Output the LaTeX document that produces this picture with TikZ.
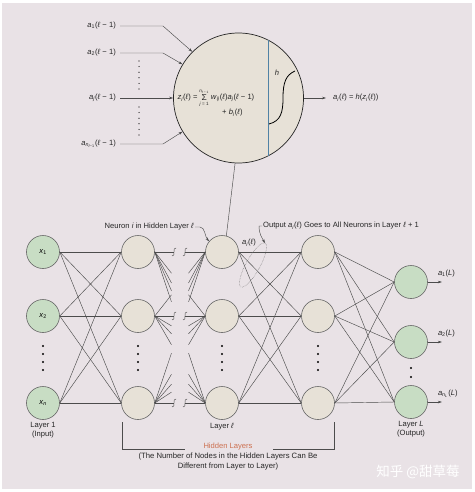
\documentclass[tikz,border=0pt]{standalone}
\usepackage{fontspec}
\setmainfont{Liberation Sans}
\newfontfamily\cjk{Noto Sans CJK SC}
\usetikzlibrary{positioning,calc,arrows.meta}
\definecolor{bgpink}{RGB}{233,226,230}
\definecolor{beige}{RGB}{231,225,215}
\definecolor{sage}{RGB}{200,221,196}
\definecolor{rust}{RGB}{204,112,80}
\definecolor{steel}{RGB}{80,130,165}
\newcommand{\lay}{\textit{ℓ}}
\newcommand{\iv}[1]{\textit{#1}}
\newcommand{\lo}[1]{\textsubscript{\textit{#1}}}
\newcommand{\brk}[1]{\draw[wire] ($(#1)+(2,-4)$) .. controls ($(#1)+(-2,-5)$) and ($(#1)+(2,5)$) .. ($(#1)+(-2,4)$);}

\begin{document}
\begin{tikzpicture}[x=1pt,y=-1pt,
  lbl/.style={font=\fontsize{7.6}{9}\selectfont, text=black!85, inner sep=1pt},
  lim/.style={font=\fontsize{4.6}{5}\selectfont, text=black!85, inner sep=0pt},
  unit/.style={circle, draw=black!60, line width=0.6pt, minimum size=33pt, inner sep=0pt, font=\fontsize{7.6}{8}\selectfont},
  inp/.style={unit, fill=sage},
  hid/.style={unit, fill=beige},
  wire/.style={draw=black!70, line width=0.45pt},
  arr/.style={wire, -{Stealth[length=4pt,width=2.6pt]}}]
  \useasboundingbox (0,0) rectangle (474,492);
  \fill[white] (0,0) rectangle (474,492);
  \fill[bgpink] (2,3) rectangle (472,489);

  % the single neuron, enlarged
  \node[circle, draw=black!85, line width=0.7pt, fill=beige, minimum size=130pt, inner sep=0pt] (neuron) at (238.5,98) {};
  \draw[steel, line width=1pt] (neuron.63) -- (neuron.-63);
  \draw[line width=0.8pt] (269,124) .. controls (281,121) and (283,112) .. (283,98) .. controls (283,82) and (286,75) .. (295,71);
  \node[lbl] at (277,73) {\iv{h}};
  \node[lbl, anchor=east, inner sep=0.3pt] (zi) at (198,98) {\iv{z}\lo{i}(\lay) =};
  \node[lbl, font=\fontsize{8.5}{9}\selectfont, inner sep=0pt, minimum width=12pt, right=0pt of zi] (sig) {Σ};
  \node[lim, above=1pt of sig] {\iv{n}\textsubscript{\lay{} − 1}};
  \node[lim, below=1.2pt of sig] {\iv{j} = 1};
  \node[lbl, inner sep=0.3pt, right=0pt of sig] (wsum) {\iv{w}\lo{ij}(\lay)\iv{a}\lo{j}(\lay{} − 1)};
  \node[lbl, anchor=west] (bias) at (221,113) {+ \iv{b}\lo{i}(\lay)};

  \node[lbl, anchor=east] (in1) at (117,26) {\iv{a}\textsubscript{1}(\lay{} − 1)};
  \node[lbl, anchor=east] (in2) at (117,53) {\iv{a}\textsubscript{2}(\lay{} − 1)};
  \node[lbl, anchor=east] (inj) at (117,98) {\iv{a}\lo{j}(\lay{} − 1)};
  \node[lbl, anchor=east] (inn) at (117,144) {\iv{a}\textsubscript{\iv{n}\textsubscript{\lay{}−1}}(\lay{} − 1)};
  \draw[arr] ([xshift=3pt]in1.east) -- ++(43,0) -- (neuron.135);
  \draw[arr] ([xshift=3pt]in2.east) -- ++(43,0) -- (neuron.149);
  \draw[arr] ([xshift=3pt]inj.east) -- (neuron.west);
  \draw[arr] ([xshift=3pt]inn.east) -- ++(43,0) -- (neuron.211);
  \foreach \yy in {61,66.6,...,90} \fill (139,\yy) circle (0.6);
  \foreach \yy in {107,112.6,...,136} \fill (139,\yy) circle (0.6);
  \node[lbl, anchor=west] (aout) at (332,98) {\iv{a}\lo{i}(\lay) = \iv{h}(\iv{z}\lo{i}(\lay))};
  \draw[arr] (neuron.east) -- ([xshift=-6pt]aout.west);

  % the network
  \node[inp] (x1) at (43,252) {\iv{x}\textsubscript{1}};
  \node[inp] (x2) at (43,316) {\iv{x}\textsubscript{2}};
  \node[inp] (xn) at (43,403) {\iv{x}\lo{n}};
  \foreach \r/\yy in {1/252,2/316,3/403} {
    \node[hid] (h\r) at (138,\yy) {};
    \node[hid] (l\r) at (222,\yy) {};
    \node[hid] (m\r) at (318,\yy) {};
  }
  \node[inp] (o1) at (411,282) {};
  \node[inp] (o2) at (411,342) {};
  \node[inp] (o3) at (411,402) {};

  \foreach \s in {x1,x2,xn} \foreach \t in {h1,h2,h3} \draw[wire] (\s.east) -- (\t.west);
  \foreach \s in {l1,l2,l3} \foreach \t in {m1,m2,m3} \draw[wire] (\s.east) -- (\t.west);
  \foreach \s in {m1,m2,m3} \foreach \t in {o1,o2,o3} \draw[wire] (\s.east) -- (\t.west);

  \coordinate (hdn) at (154.5,346);
  \coordinate (hds) at (154.5,370);
  \coordinate (ldn) at (205.5,346);
  \coordinate (lds) at (205.5,370);
  \foreach \s/\tl in {h1/{l2.west,ldn,lds,l3.west},h2/{l1.west,ldn,lds,l3.west},h3/{l1.west,l2.west,ldn,lds}}
    \foreach \t in \tl \draw[wire] (\s.east) -- ($(\s.east)!0.33!(\t)$);
  \foreach \s/\tl in {l1/{h2.east,hdn,hds,h3.east},l2/{h1.east,hdn,hds,h3.east},l3/{h1.east,h2.east,hdn,hds}}
    \foreach \t in \tl \draw[wire] (\s.west) -- ($(\s.west)!0.33!(\t)$);
  \foreach \r/\yy in {1/252,2/316,3/403} {
    \coordinate (ba\r) at (174,\yy);
    \coordinate (bb\r) at (185,\yy);
    \draw[wire] (h\r.east) -- (ba\r);
    \draw[wire] (bb\r) -- (l\r.west);
    \brk{ba\r}
    \brk{bb\r}
  }

  \foreach \xx in {43,138,222,318} \foreach \yy in {346,354,362,370} \fill (\xx,\yy) circle (1.2);
  \fill (411,368) circle (1.2);
  \fill (411,377) circle (1.2);

  \draw[wire] (neuron.267) -- (l1.75);
  \node[lbl, anchor=east] (nlab) at (195,227) {Neuron \iv{i} in Hidden Layer \lay};
  \draw[arr] (nlab.east) -- ++(5,0) .. controls +(5,0) and +(-4,-4) .. (l1.140);
  \node[lbl] (ail) at (249,243) {\iv{a}\lo{i}(\lay)};
  \draw[black!55, densely dotted, line width=0.5pt, rotate around={61:(253,265)}] (253,265) ellipse [x radius=25, y radius=7];
  \coordinate (elltop) at (265,243);
  \node[lbl, anchor=west] (olab) at (262,226) {Output \iv{a}\lo{i}(\lay) Goes to All Neurons in Layer \lay{} + 1};
  \draw[arr] (olab.west) -- ++(-3,0) .. controls +(0,8) and +(-3,-5) .. (elltop);

  \foreach \r in {1,2} \node[lbl, anchor=west] (oa\r) at ([xshift=9pt,yshift=8pt]o\r.east) {\iv{a}\textsubscript{\r}(\iv{L})};
  \node[lbl, anchor=west] (oa3) at ([xshift=9pt,yshift=8pt]o3.east) {\iv{a}\textsubscript{\iv{n}\textsubscript{\iv{L}}}(\iv{L})};
  \foreach \r in {1,2,3} \draw[arr] (o\r.east) -- ++(14,0);

  % layer captions and bracket
  \node[lbl, align=center, below=1pt of xn] {Layer 1\\(Input)};
  \node[lbl, below=2pt of l3] {Layer \lay};
  \node[lbl, align=center, below=1pt of o3] {Layer \iv{L}\\(Output)};
  \node[lbl, text=rust] (hidlab) at (228,447) {Hidden Layers};
  \draw[wire] (122,422) -- (122,449) -- (185,449);
  \draw[wire] (273,449) -- (334,449) -- (334,422);
  \node[lbl, align=center, font=\fontsize{7.7}{10}\selectfont, below=0pt of hidlab] {(The Number of Nodes in the Hidden Layers Can Be\\Different from Layer to Layer)};
  \node[text=white, font=\cjk\fontsize{13.5}{14}\selectfont] at (418,472) {知乎 @甜草莓};
\end{tikzpicture}
\end{document}
